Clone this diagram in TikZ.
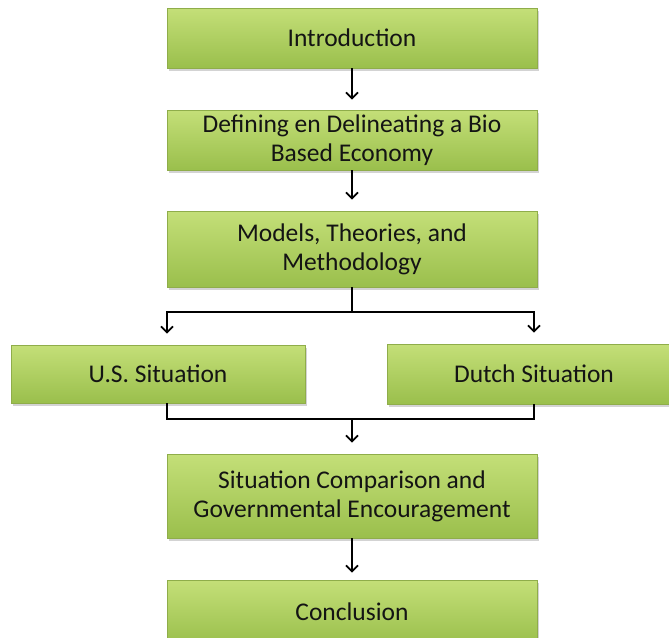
\documentclass[tikz,border=0pt]{standalone}
\usepackage{fontspec}
\setmainfont{Carlito}
\usetikzlibrary{arrows.meta,shadows}
\definecolor{fcTop}{HTML}{C4DF78}
\definecolor{fcBottom}{HTML}{9ABF4C}
\definecolor{fcEdge}{HTML}{8FAD4A}
\definecolor{fcInk}{HTML}{141414}
\tikzset{
  fc diagram/.style={x=1pt, y=1pt, font=\fontsize{25.5}{29}\selectfont,
    text=fcInk, line join=miter},
  fc box/.style={draw=fcEdge, line width=0.6pt, top color=fcTop,
    bottom color=fcBottom, align=center, inner sep=0pt, minimum width=370pt,
    drop shadow={opacity=0.35, shadow xshift=1.5pt, shadow yshift=-2.5pt}},
  fc line/.style={draw=black, line width=1.8pt},
  fc arrow/.style={fc line, -{Straight Barb[length=6pt, width=12pt]}}
}

\begin{document}
\begin{tikzpicture}[fc diagram]
\clip (0,0) rectangle (669,-637);
\node[fc box, minimum height=60pt] (intro) at (352,-38) {Introduction};
\node[fc box, minimum height=60pt] (define) at (352,-140)
  {Defining en Delineating a Bio\\Based Economy};
\node[fc box, minimum height=76pt] (models) at (352,-249)
  {Models, Theories, and\\Methodology};
\node[fc box, minimum width=294pt, minimum height=58pt] (us) at (158,-374) {U.S. Situation};
\node[fc box, minimum width=294pt, minimum height=60pt] (dutch) at (534,-374) {Dutch Situation};
\node[fc box, minimum height=84pt] (compare) at (352,-496)
  {Situation Comparison and\\Governmental Encouragement};
\node[fc box, minimum height=64pt] (concl) at (352,-612) {Conclusion};
% connectors
\draw[fc arrow, shorten >=10pt] (intro) -- (define);
\draw[fc arrow, shorten >=11pt] (define) -- (models);
\draw[fc arrow, shorten >=11pt] (models.south) -- ++(0,-25) -| ([xshift=9pt]us.north);
\draw[fc arrow, shorten >=11pt] (models.south) -- ++(0,-25) -| (dutch.north);
\draw[fc line] ([xshift=9pt]us.south) -- ++(0,-16) coordinate (mergeL) -| (dutch.south);
\draw[fc arrow, shorten >=11pt] (mergeL -| compare.north) -- (compare);
\draw[fc arrow, shorten >=7pt] (compare) -- (concl);
\end{tikzpicture}
\end{document}
